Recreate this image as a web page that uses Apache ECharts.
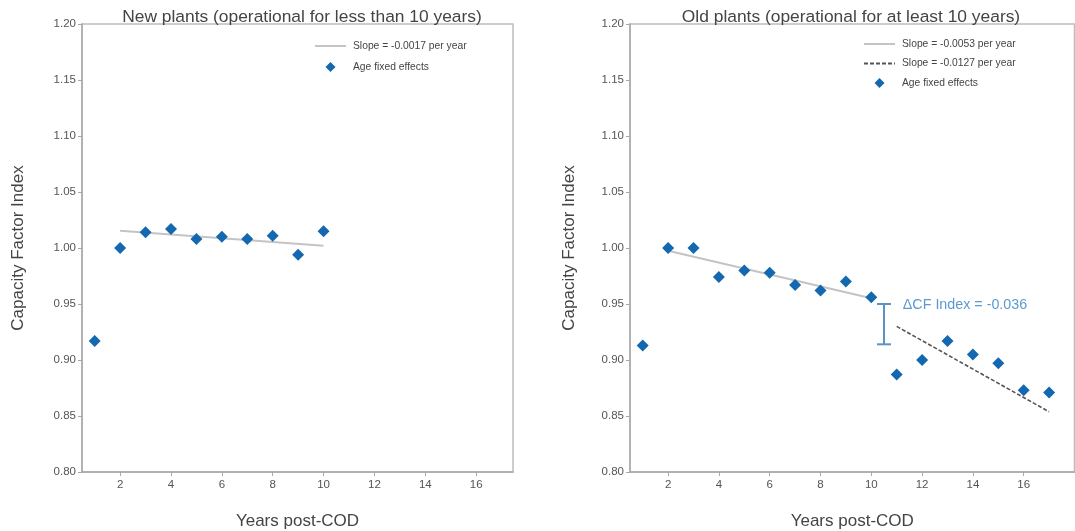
<!DOCTYPE html>
<html>
<head>
<meta charset="utf-8">
<script src="https://cdn.jsdelivr.net/npm/echarts@6/dist/echarts.min.js"></script>
<style>html,body{margin:0;padding:0;background:#fff}#c{width:1075px;height:531px}</style>
</head>
<body>
<div id="c"></div>
<script>
// ---- data ----
const xTicks = [2, 4, 6, 8, 10, 12, 14, 16];
const yTicks = [0.80, 0.85, 0.90, 0.95, 1.00, 1.05, 1.10, 1.15, 1.20];

const newYears = [1, 2, 3, 4, 5, 6, 7, 8, 9, 10];
const newEffects = [0.917, 1.000, 1.014, 1.017, 1.008, 1.010, 1.008, 1.011, 0.994, 1.015];
const newTrendX = [2, 10];
const newTrendY = [1.0155, 1.0019];

const oldYears = [1, 2, 3, 4, 5, 6, 7, 8, 9, 10, 11, 12, 13, 14, 15, 16, 17];
const oldEffects = [0.913, 1.000, 1.000, 0.974, 0.980, 0.978, 0.967, 0.962, 0.970, 0.956, 0.887, 0.900, 0.917, 0.905, 0.897, 0.873, 0.871];
const oldTrend1X = [2, 10];
const oldTrend1Y = [0.9975, 0.9551];
const oldTrend2X = [11, 17];
const oldTrend2Y = [0.930, 0.8538];

const deltaBar = [10.5, 0.914, 0.950];       // x, low, high
const deltaLabel = [11.24, 0.9495, 'ΔCF Index = -0.036'];

const titles = ['New plants (operational for less than 10 years)', 'Old plants (operational for at least 10 years)'];
const labelNew = 'Slope = -0.0017 per year';
const labelOld1 = 'Slope = -0.0053 per year';
const labelOld2 = 'Slope = -0.0127 per year';
const labelFx = 'Age fixed effects';

// ---- chart ----
const FONT = '"Liberation Sans", Arial, sans-serif';
const BLUE = '#1368b0';
const zip = (a, b) => a.map((v, i) => [v, b[i]]);
const ICON_SOLID = 'path://M0,0h31v2h-31z';
const ICON_DASH = 'path://M0,0h4v2h-4zM6,0h4v2h-4zM12,0h4v2h-4zM18,0h4v2h-4zM24,0h4v2h-4zM30,0h1v2h-1z';
const ICON_DIAMOND = 'path://M5,0L10,5L5,10L0,5Z';

function xAxis(idx, max) {
  return {
    type: 'value', gridIndex: idx, min: 0.5, max: max,
    name: 'Years post-COD', nameLocation: 'middle', nameGap: 41,
    nameTextStyle: { fontFamily: FONT, fontSize: 17, color: '#444' },
    axisLine: { show: true, lineStyle: { color: '#a8a8a8', width: 1.5 } },
    axisTick: { show: true, length: 4, customValues: xTicks, lineStyle: { color: '#a8a8a8' } },
    axisLabel: { customValues: xTicks, fontFamily: FONT, fontSize: 11.5, color: '#555', margin: 7 },
    splitLine: { show: false }
  };
}
function yAxis(idx, gap) {
  return {
    type: 'value', gridIndex: idx, min: 0.8, max: 1.2,
    name: 'Capacity Factor Index', nameLocation: 'middle', nameGap: gap,
    nameTextStyle: { fontFamily: FONT, fontSize: 17, color: '#444' },
    axisLine: { show: true, lineStyle: { color: '#a8a8a8', width: 1.5 } },
    axisTick: { show: true, length: 4, customValues: yTicks, lineStyle: { color: '#a8a8a8' } },
    axisLabel: { customValues: yTicks, fontFamily: FONT, fontSize: 11.5, color: '#555', margin: 6,
      formatter: v => Number(v).toFixed(2) },
    splitLine: { show: false }
  };
}
const legendBase = {
  orient: 'vertical', itemWidth: 31, itemHeight: 10, itemGap: 11,
  symbolKeepAspect: true,
  textStyle: { fontFamily: FONT, fontSize: 10.3, color: '#444', padding: [0, 0, 0, 2] },
  selectedMode: false
};

const option = {
  animation: false,
  backgroundColor: '#fff',
  title: [
    { text: titles[0], left: 297, top: 4, textAlign: 'center',
      textStyle: { fontFamily: FONT, fontSize: 17.4, fontWeight: 'normal', color: '#444' } },
    { text: titles[1], left: 846, top: 4, textAlign: 'center',
      textStyle: { fontFamily: FONT, fontSize: 17.4, fontWeight: 'normal', color: '#444' } }
  ],
  legend: [
    Object.assign({}, legendBase, { left: 310, top: 36, data: [
      { name: labelNew, icon: ICON_SOLID }, { name: labelFx, icon: ICON_DIAMOND }] }),
    Object.assign({}, legendBase, { left: 859, top: 34, itemGap: 9.5, data: [
      { name: labelOld1, icon: ICON_SOLID }, { name: labelOld2, icon: ICON_DASH }, { name: labelFx, icon: ICON_DIAMOND }] })
  ],
  grid: [
    { left: 82, top: 24, width: 431, height: 448, outerBoundsMode: 'none', containLabel: false,
      show: true, borderColor: '#bdbdbd', borderWidth: 1.5 },
    { left: 630, top: 24, width: 444.5, height: 448, outerBoundsMode: 'none', containLabel: false,
      show: true, borderColor: '#bdbdbd', borderWidth: 1.5 }
  ],
  xAxis: [xAxis(0, 17.45), xAxis(1, 18)],
  yAxis: [yAxis(0, 55), yAxis(1, 52)],
  series: [
    { name: labelNew, type: 'line', xAxisIndex: 0, yAxisIndex: 0, data: zip(newTrendX, newTrendY),
      symbol: 'none', lineStyle: { color: '#c4c4c4', width: 2 }, itemStyle: { color: '#c4c4c4' }, z: 2 },
    { name: labelFx, type: 'scatter', xAxisIndex: 0, yAxisIndex: 0, data: zip(newYears, newEffects),
      symbol: 'diamond', symbolSize: 12, itemStyle: { color: BLUE, opacity: 1 }, z: 3 },
    { name: labelOld1, type: 'line', xAxisIndex: 1, yAxisIndex: 1, data: zip(oldTrend1X, oldTrend1Y),
      symbol: 'none', lineStyle: { color: '#c4c4c4', width: 2 }, itemStyle: { color: '#c4c4c4' }, z: 2 },
    { name: labelOld2, type: 'line', xAxisIndex: 1, yAxisIndex: 1, data: zip(oldTrend2X, oldTrend2Y),
      symbol: 'none', lineStyle: { color: '#555', width: 1.6, type: [4, 2] }, itemStyle: { color: '#555' }, z: 2 },
    { name: labelFx, type: 'scatter', xAxisIndex: 1, yAxisIndex: 1, data: zip(oldYears, oldEffects),
      symbol: 'diamond', symbolSize: 12, itemStyle: { color: BLUE, opacity: 1 }, z: 3 },
    { type: 'custom', xAxisIndex: 1, yAxisIndex: 1, data: [deltaBar], z: 4,
      renderItem: function (params, api) {
        const x = api.value(0);
        const pLo = api.coord([x, api.value(1)]);
        const pHi = api.coord([x, api.value(2)]);
        const hw = 7;
        const st = { stroke: '#5b93c4', lineWidth: 2 };
        const pT = api.coord([deltaLabel[0], deltaLabel[1]]);
        return { type: 'group', children: [
          { type: 'line', shape: { x1: pLo[0], y1: pLo[1], x2: pHi[0], y2: pHi[1] }, style: st },
          { type: 'line', shape: { x1: pLo[0] - hw, y1: pLo[1], x2: pLo[0] + hw, y2: pLo[1] }, style: st },
          { type: 'line', shape: { x1: pHi[0] - hw, y1: pHi[1], x2: pHi[0] + hw, y2: pHi[1] }, style: st },
          { type: 'text', x: pT[0], y: pT[1], style: { text: deltaLabel[2], fill: '#5b9ad0',
            font: '14.3px ' + FONT, verticalAlign: 'middle', align: 'left' } }
        ] };
      }
    }
  ]
};
const chart = echarts.init(document.getElementById('c'), null, { renderer: 'canvas' });
chart.setOption(option);
</script>
</body>
</html>
